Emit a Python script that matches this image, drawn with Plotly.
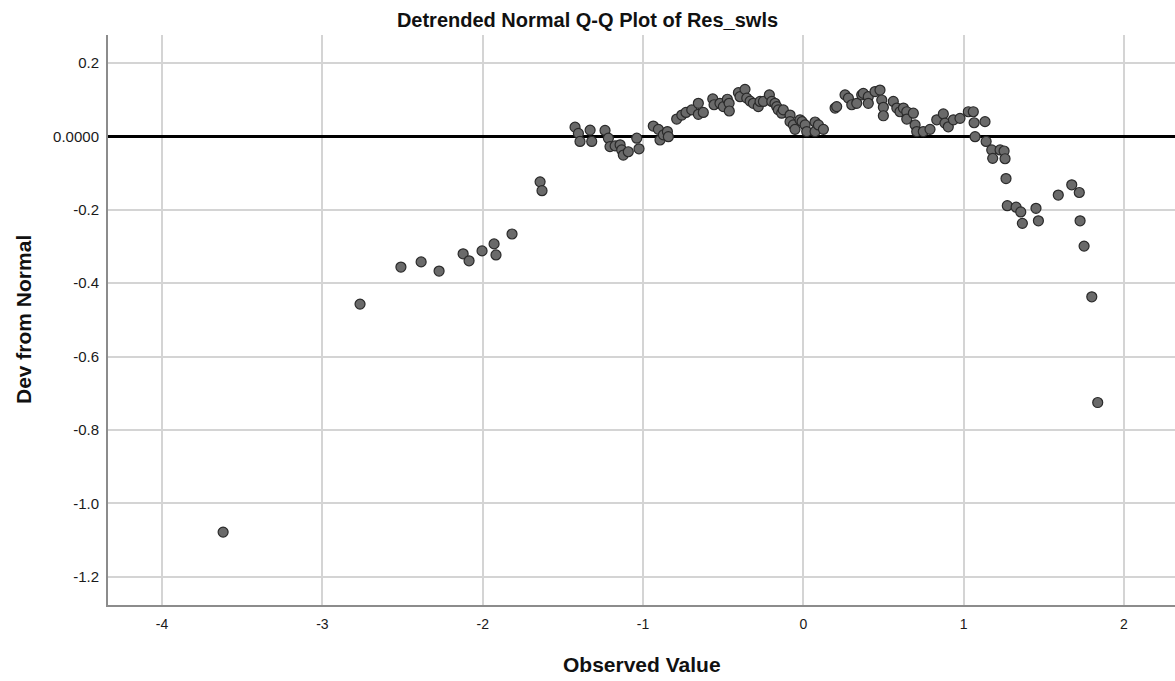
import plotly.graph_objects as go

observed_value = [
    -3.619, -2.765, -2.510, -2.384, -2.272, -2.122, -2.085, -2.004, -1.929, -1.917,
    -1.817, -1.642, -1.630, -1.424, -1.403, -1.393, -1.330, -1.320, -1.237, -1.216,
    -1.206, -1.174, -1.143, -1.133, -1.123, -1.092, -1.039, -1.025, -0.936, -0.904,
    -0.894, -0.873, -0.848, -0.842, -0.790, -0.758, -0.732, -0.696, -0.655, -0.655,
    -0.624, -0.565, -0.557, -0.520, -0.499, -0.474, -0.463, -0.462, -0.405, -0.395,
    -0.364, -0.353, -0.332, -0.312, -0.281, -0.270, -0.249, -0.212, -0.197, -0.177,
    -0.166, -0.156, -0.135, -0.125, -0.083, -0.083, -0.062, -0.052, -0.021, -0.008,
    0.011, 0.021, 0.073, 0.073, 0.094, 0.125, 0.198, 0.208, 0.260, 0.281,
    0.302, 0.333, 0.364, 0.374, 0.405, 0.405, 0.447, 0.478, 0.489, 0.499,
    0.499, 0.561, 0.583, 0.603, 0.624, 0.645, 0.645, 0.686, 0.697, 0.707,
    0.748, 0.790, 0.832, 0.873, 0.883, 0.904, 0.936, 0.977, 1.029, 1.060,
    1.065, 1.071, 1.133, 1.140, 1.175, 1.181, 1.227, 1.252, 1.258, 1.264,
    1.272, 1.327, 1.356, 1.366, 1.451, 1.466, 1.590, 1.674, 1.721, 1.726,
    1.751, 1.799, 1.836,
]

dev_from_normal = [
    -1.078, -0.457, -0.356, -0.342, -0.367, -0.320, -0.339, -0.312, -0.293, -0.323,
    -0.266, -0.124, -0.148, 0.025, 0.008, -0.014, 0.017, -0.014, 0.016, -0.005,
    -0.028, -0.026, -0.023, -0.037, -0.051, -0.042, -0.005, -0.034, 0.028, 0.019,
    -0.010, 0.004, 0.013, -0.001, 0.047, 0.058, 0.065, 0.072, 0.090, 0.060,
    0.065, 0.102, 0.086, 0.090, 0.081, 0.101, 0.090, 0.069, 0.119, 0.108,
    0.128, 0.104, 0.096, 0.090, 0.081, 0.095, 0.095, 0.113, 0.095, 0.090,
    0.081, 0.072, 0.063, 0.072, 0.058, 0.040, 0.031, 0.019, 0.045, 0.040,
    0.031, 0.013, 0.039, 0.013, 0.031, 0.019, 0.077, 0.081, 0.113, 0.104,
    0.086, 0.090, 0.113, 0.117, 0.108, 0.090, 0.122, 0.126, 0.099, 0.079,
    0.056, 0.095, 0.077, 0.067, 0.077, 0.067, 0.047, 0.063, 0.031, 0.013,
    0.013, 0.019, 0.045, 0.061, 0.036, 0.026, 0.045, 0.049, 0.067, 0.067,
    0.037, -0.001, 0.040, -0.014, -0.037, -0.060, -0.037, -0.040, -0.061, -0.115,
    -0.189, -0.193, -0.206, -0.237, -0.196, -0.230, -0.160, -0.132, -0.153, -0.230,
    -0.299, -0.437, -0.725,
]

x_tick_vals = [-4, -3, -2, -1, 0, 1, 2]
x_tick_text = ["-4", "-3", "-2", "-1", "0", "1", "2"]
y_tick_vals = [0.2, 0.0, -0.2, -0.4, -0.6, -0.8, -1.0, -1.2]
y_tick_text = ["0.2", "0.0000", "-0.2", "-0.4", "-0.6", "-0.8", "-1.0", "-1.2"]

title_text = "Detrended Normal Q-Q Plot of Res_swls"
x_title = "Observed Value"
y_title = "Dev from Normal"

FONT = "Arial, 'Liberation Sans', sans-serif"

fig = go.Figure()
fig.add_trace(go.Scatter(
    x=observed_value, y=dev_from_normal, mode="markers",
    marker=dict(size=10, color="#6a6a6a", line=dict(color="#2a2a2a", width=1.2)),
    showlegend=False, hoverinfo="x+y",
))

fig.update_layout(
    width=1175, height=681,
    margin=dict(l=108, r=0, t=35, b=76),
    paper_bgcolor="white", plot_bgcolor="white",
    font=dict(family=FONT, color="#222222"),
    title=dict(text="<b>" + title_text + "</b>", x=0.5, xref="container", xanchor="center",
               y=1 - 20 / 681, yref="container", yanchor="middle",
               font=dict(size=20, color="#111111", family=FONT)),
    xaxis=dict(
        range=[-4.337, 2.318], tickvals=x_tick_vals, ticktext=x_tick_text,
        showgrid=True, gridcolor="#d4d4d4", gridwidth=1.5,
        zeroline=False, showline=True, linecolor="#8c8c8c", linewidth=2,
        ticks="outside", ticklen=5, tickcolor="rgba(0,0,0,0)",
        tickfont=dict(size=14, color="#1a1a1a"),
    ),
    yaxis=dict(
        range=[-1.2765, 0.276], tickvals=y_tick_vals, ticktext=y_tick_text,
        showgrid=True, gridcolor="#d4d4d4", gridwidth=1.5,
        zeroline=True, zerolinecolor="#000000", zerolinewidth=3,
        showline=True, linecolor="#8c8c8c", linewidth=2,
        ticks="outside", ticklen=4, tickcolor="rgba(0,0,0,0)",
        tickfont=dict(size=15, color="#1a1a1a"),
    ),
    annotations=[
        dict(text="<b>" + x_title + "</b>", xref="paper", yref="paper",
             x=0.5, y=-(665 - 605) / 570, xanchor="center", yanchor="middle",
             showarrow=False, font=dict(size=21, color="#111111", family=FONT)),
        dict(text="<b>" + y_title + "</b>", xref="paper", yref="paper",
             x=-(108 - 23) / 1067, y=0.5, xanchor="center", yanchor="middle",
             textangle=-90, showarrow=False,
             font=dict(size=21, color="#111111", family=FONT)),
    ],
)

fig.write_html("out.html")
